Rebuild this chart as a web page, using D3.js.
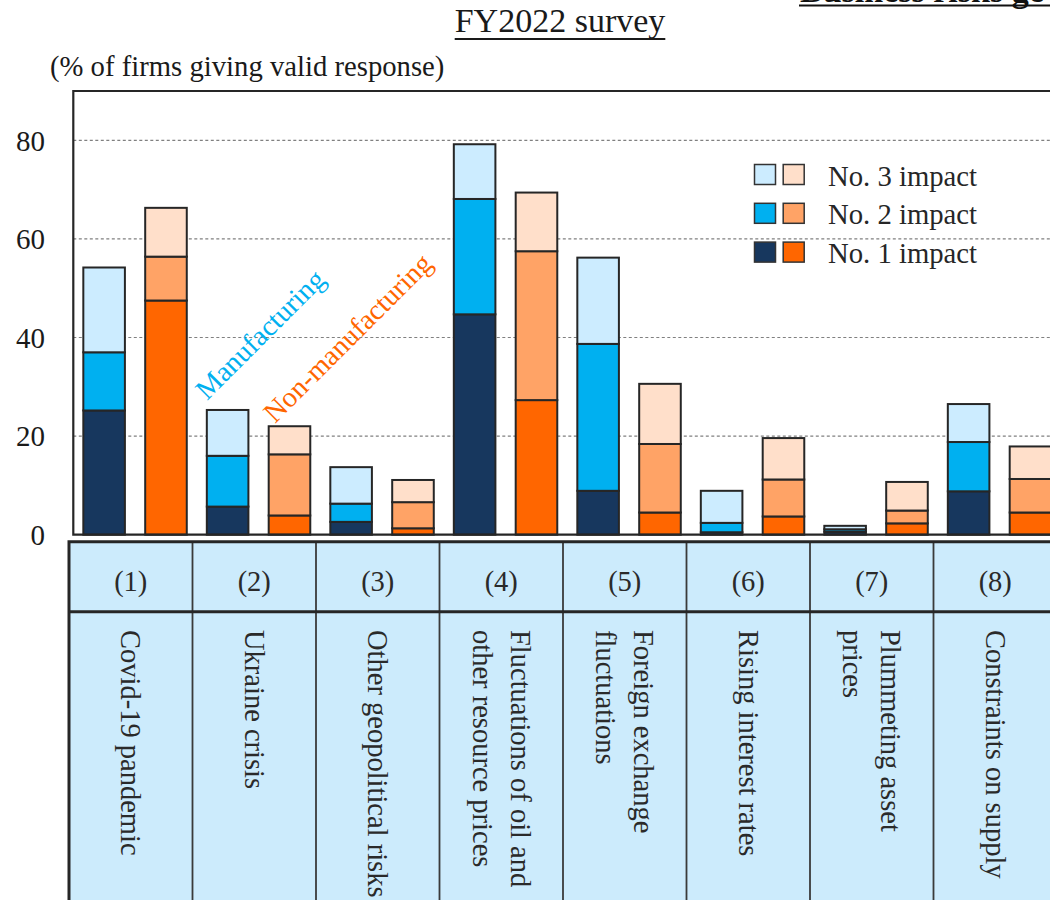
<!DOCTYPE html>
<html>
<head>
<meta charset="utf-8">
<script src="https://cdn.jsdelivr.net/npm/d3@7"></script>
<style>
  html, body { margin: 0; padding: 0; background: #fff; }
  svg { display: block; font-family: "Liberation Serif", "Times New Roman", serif; }
</style>
</head>
<body>
<svg id="chart" width="1050" height="900"></svg>
<script>
// Risk categories (table header numbers and descriptions)
const categories = ["(1)", "(2)", "(3)", "(4)", "(5)", "(6)", "(7)", "(8)"];
const categoryLabels = [
  ["Covid-19 pandemic"],
  ["Ukraine crisis"],
  ["Other geopolitical risks"],
  ["Fluctuations of oil and", "other resource prices"],
  ["Foreign exchange", "fluctuations"],
  ["Rising interest rates"],
  ["Plummeting asset", "prices"],
  ["Constraints on supply"]
];
const sectors = ["Manufacturing", "Non-manufacturing"];
const impactKeys = ["No. 1 impact", "No. 2 impact", "No. 3 impact"];

// % of firms giving valid response, by rank of impact
const mfgNo1 = [25.2, 5.7, 2.6, 44.7, 8.9, 0.5, 0.6, 8.8];
const mfgNo2 = [11.8, 10.3, 3.7, 23.4, 29.8, 1.9, 0.5, 10.0];
const mfgNo3 = [17.2, 9.3, 7.4, 11.1, 17.5, 6.5, 0.7, 7.7];
const nonNo1 = [47.5, 3.9, 1.3, 27.3, 4.5, 3.7, 2.3, 4.5];
const nonNo2 = [8.9, 12.4, 5.3, 30.2, 13.9, 7.5, 2.6, 6.8];
const nonNo3 = [9.9, 5.7, 4.5, 11.9, 12.2, 8.4, 5.8, 6.6];

const yTicks = [0, 20, 40, 60, 80];

const colors = {
  "Manufacturing": ["#17375E", "#00B0F0", "#CCECFF"],
  "Non-manufacturing": ["#FF6600", "#FFA366", "#FFDFCA"]
};
const labelColors = { "Manufacturing": "#00B0F0", "Non-manufacturing": "#FF6600" };
const ink = "#262626";
const tableFill = "#CCEBFC";

const svg = d3.select("#chart");

// Plot frame geometry
const plotLeft = 73.3, plotTop = 91, plotBottom = 534.7;
const step = 123.5;
const plotRight = plotLeft + step * categories.length;

const x = d3.scaleBand().domain(categories).range([plotLeft, plotRight]).paddingInner(0).paddingOuter(0);
const xs = d3.scaleBand().domain(sectors).range([0, x.bandwidth()]).paddingInner(0.328).paddingOuter(0.162);
const y = d3.scaleLinear().domain([0, 90]).range([plotBottom, plotTop]);

// Titles (the page heading runs off the top-right edge)
svg.append("text")
  .attr("x", 800).attr("y", 2)
  .attr("font-size", 34).attr("font-weight", "bold").attr("fill", "#111")
  .text("Business risks ge");
svg.append("line").attr("x1", 799).attr("x2", 1050).attr("y1", 5.5).attr("y2", 5.5)
  .attr("stroke", "#111").attr("stroke-width", 2);

const title = svg.append("text")
  .attr("x", 560).attr("y", 32).attr("text-anchor", "middle")
  .attr("font-size", 34).attr("fill", "#1a1a1a")
  .text("FY2022 survey");
const tb = title.node().getBBox();
svg.append("line").attr("x1", tb.x).attr("x2", tb.x + tb.width).attr("y1", 39).attr("y2", 39)
  .attr("stroke", "#1a1a1a").attr("stroke-width", 2);

svg.append("text")
  .attr("x", 50).attr("y", 76)
  .attr("font-size", 28.7).attr("fill", "#1a1a1a")
  .text("(% of firms giving valid response)");

// Gridlines
svg.append("g").selectAll("line")
  .data(yTicks.filter(d => d > 0))
  .join("line")
  .attr("x1", plotLeft).attr("x2", plotRight)
  .attr("y1", d => y(d)).attr("y2", d => y(d))
  .attr("stroke", "#808080").attr("stroke-width", 1.2).attr("stroke-dasharray", "3,2.5");

// Y axis tick labels
const yAxis = d3.axisLeft(y).tickValues(yTicks).tickSize(0).tickPadding(0);
const yg = svg.append("g").attr("transform", `translate(45,0)`).call(yAxis);
yg.select(".domain").remove();
yg.selectAll("text")
  .attr("font-family", "\"Liberation Serif\", \"Times New Roman\", serif")
  .attr("font-size", 29).attr("fill", "#1a1a1a").attr("dy", "0.34em");

// Stacked bars
const seriesBySector = {
  "Manufacturing": [mfgNo1, mfgNo2, mfgNo3],
  "Non-manufacturing": [nonNo1, nonNo2, nonNo3]
};
const stack = d3.stack().keys(impactKeys);

sectors.forEach(sector => {
  const rows = categories.map((c, i) => {
    const r = { cat: c };
    impactKeys.forEach((k, j) => { r[k] = seriesBySector[sector][j][i]; });
    return r;
  });
  const stacked = stack(rows);
  const g = svg.append("g");
  stacked.forEach((layer, j) => {
    g.append("g").selectAll("rect")
      .data(layer)
      .join("rect")
      .attr("x", d => x(d.data.cat) + xs(sector))
      .attr("width", xs.bandwidth())
      .attr("y", d => y(d[1]))
      .attr("height", d => y(d[0]) - y(d[1]))
      .attr("fill", colors[sector][j])
      .attr("stroke", ink).attr("stroke-width", 2);
  });
});

// Plot frame (left, top, bottom)
svg.append("path")
  .attr("d", `M${plotRight},${plotTop}H${plotLeft}V${plotBottom}H${plotRight}`)
  .attr("fill", "none").attr("stroke", ink).attr("stroke-width", 2.2);

// Sector labels
const sectorLabelPos = { "Manufacturing": [207, 401], "Non-manufacturing": [275, 424] };
sectors.forEach(s => {
  svg.append("text")
    .attr("transform", `translate(${sectorLabelPos[s][0]},${sectorLabelPos[s][1]}) rotate(-45)`)
    .attr("font-size", 28.5).attr("fill", labelColors[s])
    .text(s);
});

// Legend
const legendRows = [2, 1, 0];
const legend = svg.append("g");
legendRows.forEach((j, r) => {
  const cy = 174.5 + r * 38.8;
  sectors.forEach((s, si) => {
    legend.append("rect")
      .attr("x", 754.5 + si * 28.7).attr("y", cy - 10)
      .attr("width", 21).attr("height", 20)
      .attr("fill", colors[s][j]).attr("stroke", "#333").attr("stroke-width", 1.5);
  });
  legend.append("text")
    .attr("x", 828).attr("y", cy + 11)
    .attr("font-size", 28.7).attr("fill", "#262626")
    .text(impactKeys[j]);
});

// Category table below the plot
const tableLeft = 69, tableTop = 541.7, rowSplit = 611.7, tableBottom = 905;
const tx = d3.scaleBand().domain(categories).range([tableLeft, tableLeft + step * categories.length]);
const table = svg.append("g");
table.append("rect")
  .attr("x", tableLeft).attr("y", tableTop)
  .attr("width", tx.range()[1] - tableLeft).attr("height", tableBottom - tableTop)
  .attr("fill", tableFill);
table.selectAll("line.col")
  .data(categories.slice(1))
  .join("line").attr("class", "col")
  .attr("x1", d => tx(d)).attr("x2", d => tx(d))
  .attr("y1", tableTop).attr("y2", tableBottom)
  .attr("stroke", "#3a3a3a").attr("stroke-width", 1.8);
table.append("line")
  .attr("x1", tableLeft).attr("x2", tx.range()[1])
  .attr("y1", rowSplit).attr("y2", rowSplit)
  .attr("stroke", ink).attr("stroke-width", 3);
table.append("path")
  .attr("d", `M${tableLeft},${tableBottom}V${tableTop}H${tx.range()[1]}`)
  .attr("fill", "none").attr("stroke", ink).attr("stroke-width", 3);

table.selectAll("text.num")
  .data(categories)
  .join("text").attr("class", "num")
  .attr("x", d => tx(d) + tx.bandwidth() / 2).attr("y", 591)
  .attr("text-anchor", "middle").attr("font-size", 28.5).attr("fill", "#2a2a2a")
  .text(d => d);

categories.forEach((c, i) => {
  const lines = categoryLabels[i];
  const cx = tx(c) + tx.bandwidth() / 2;
  const gap = 38;
  lines.forEach((line, k) => {
    const off = lines.length === 1 ? 0 : (k === 0 ? gap / 2 : -gap / 2);
    table.append("text")
      .attr("transform", `translate(${cx + off},630) rotate(90)`)
      .attr("dominant-baseline", "central")
      .attr("font-size", 28.5).attr("fill", "#2a2a2a")
      .text(line);
  });
});
</script>
</body>
</html>
